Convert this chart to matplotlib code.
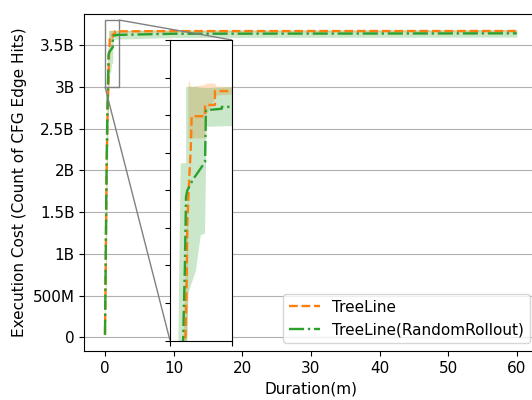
"""Execution cost over time: TreeLine vs TreeLine(RandomRollout), with a zoomed inset."""
import matplotlib

matplotlib.use("Agg")
import matplotlib.pyplot as plt  # noqa: E402
from matplotlib.ticker import FuncFormatter  # noqa: E402
from mpl_toolkits.axes_grid1.inset_locator import mark_inset  # noqa: E402

# --- TreeLine (median line and band), minutes / billions of edge hits
tl_t = [0, 0.1, 0.2, 0.3, 0.4, 0.506, 0.539, 0.558, 0.623, 0.668, 0.70,
        1.13, 1.13, 1.45, 1.45, 10, 60]
tl_y = [0.03, 0.8, 1.7, 2.35, 2.8, 3.027, 3.169, 3.312, 3.435, 3.507, 3.597,
        3.597, 3.627, 3.627, 3.664, 3.667, 3.668]
tl_band_t = [0, 0.1, 0.2, 0.3, 0.45, 0.55, 0.59, 0.59, 0.62, 0.66, 0.70,
             1.13, 1.18, 1.45, 1.5, 2.0, 60]
tl_band_lo = [0.0, 0.6, 1.5, 2.2, 2.75, 3.0, 3.1, 3.538, 3.538, 3.538, 3.538,
              3.538, 3.6, 3.645, 3.652, 3.655, 3.66]
tl_band_hi = [0.1, 1.0, 1.9, 2.5, 3.05, 3.3, 3.4, 3.675, 3.693, 3.68, 3.675,
              3.68, 3.684, 3.684, 3.676, 3.675, 3.676]

# --- TreeLine(RandomRollout)
rr_t = [0, 0.1, 0.2, 0.3, 0.43, 0.48, 0.516, 0.56, 0.75, 0.88, 1.13, 1.16,
        1.67, 1.67, 2.0, 10, 60]
rr_y = [0.03, 0.9, 1.8, 2.45, 3.027, 3.195, 3.382, 3.40, 3.43, 3.445, 3.475,
        3.613, 3.617, 3.622, 3.622, 3.635, 3.64]
rr_band_t = [0, 0.15, 0.3, 0.345, 0.52, 0.52, 0.59, 0.84, 0.99, 1.13, 1.18,
             2.0, 10, 60]
rr_band_lo = [0.0, 0.6, 1.6, 2.0, 2.8, 2.8, 3.125, 3.187, 3.28, 3.285, 3.569,
              3.571, 3.59, 3.595]
rr_band_hi = [0.2, 2.2, 3.2, 3.472, 3.472, 3.675, 3.675, 3.675, 3.673, 3.673,
              3.672, 3.675, 3.68, 3.685]

Y_TICKS = [0, 0.5e9, 1e9, 1.5e9, 2e9, 2.5e9, 3e9, 3.5e9]
INSET_Y_TICKS = [3.0e9, 3.1e9, 3.2e9, 3.3e9, 3.4e9, 3.5e9, 3.6e9, 3.7e9, 3.8e9]

ORANGE = "#ff7f0e"
GREEN = "#2ca02c"


def _fmt(v, _pos):
    """0, 500M, 1B, 1.5B ..."""
    if v == 0:
        return "0"
    if abs(v) < 1e9:
        return f"{v / 1e6:g}M"
    return f"{v / 1e9:g}B"


def _draw(ax, lw=1.7):
    b = 1e9
    ax.fill_between(tl_band_t, [v * b for v in tl_band_lo],
                    [v * b for v in tl_band_hi], color=ORANGE, alpha=0.25, lw=0)
    ax.fill_between(rr_band_t, [v * b for v in rr_band_lo],
                    [v * b for v in rr_band_hi], color=GREEN, alpha=0.25, lw=0)
    ax.plot(tl_t, [v * b for v in tl_y], color=ORANGE, ls="--", lw=lw,
            label="TreeLine")
    ax.plot(rr_t, [v * b for v in rr_y], color=GREEN, ls="-.", lw=lw,
            label="TreeLine(RandomRollout)")


plt.rcParams["font.size"] = 11
fig = plt.figure(figsize=(5.32, 4.0), dpi=100)
# the right edge of the axes runs slightly past the figure (cropped original)
ax = fig.add_axes([84.4 / 532, 49 / 400, 453 / 532, 336.7 / 400])
_draw(ax)
ax.set_xlim(-3, 63)
ax.set_ylim(-0.164e9, 3.868e9)
ax.set_yticks(Y_TICKS)
ax.yaxis.set_major_formatter(FuncFormatter(_fmt))
ax.grid(axis="y", color="#b0b0b0", lw=0.8)
ax.set_axisbelow(True)
ax.set_xlabel("Duration(m)")
ax.set_ylabel("Execution Cost (Count of CFG Edge Hits)")
ax.legend(loc="lower right")

# zoomed inset on the first two minutes
axins = fig.add_axes([170 / 532, 59.5 / 400, 62 / 532, 300.5 / 400])
_draw(axins)
axins.set_xlim(0, 2)
axins.set_ylim(3.0e9, 3.8e9)
axins.set_xticks([0, 2])
axins.set_yticks(INSET_Y_TICKS)
axins.set_xticklabels([])
axins.set_yticklabels([])
mark_inset(ax, axins, loc1=1, loc2=3, fc="none", ec="0.5")

fig.savefig("out.png", dpi=100)
